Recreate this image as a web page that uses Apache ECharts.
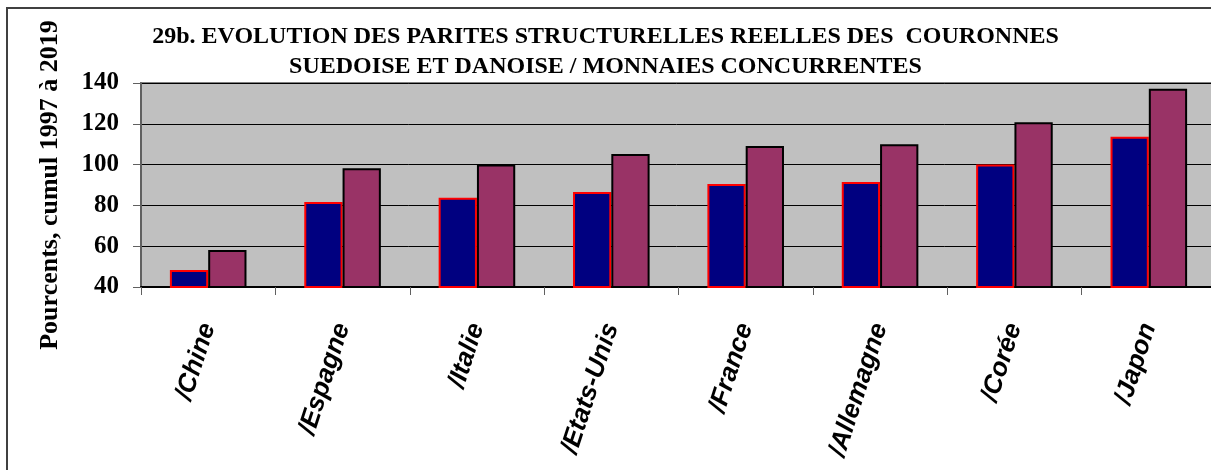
<!DOCTYPE html>
<html>
<head>
<meta charset="utf-8">
<script src="https://cdn.jsdelivr.net/npm/echarts@6/dist/echarts.min.js"></script>
<style>
  html, body { margin: 0; padding: 0; background: #fff; }
  #chart { width: 1211px; height: 470px; }
</style>
</head>
<body>
<div id="chart"></div>
<script>
// pays (categories)
var pays = ['/Chine', '/Espagne', '/Italie', '/Etats-Unis', '/France', '/Allemagne', '/Corée', '/Japon'];
// valeurs
var couronneSuedoise = [48.3, 81.7, 83.8, 86.6, 90.5, 91.5, 100.1, 113.7];
var couronneDanoise = [58.1, 98.2, 100.1, 105.2, 109.1, 110.0, 120.7, 137.2];
var yTicks = { min: 40, max: 140, interval: 20 };

var chart = echarts.init(document.getElementById('chart'), null, { renderer: 'canvas' });

var options = {
  backgroundColor: '#ffffff',
  animation: false,
  title: {
    text: '29b. EVOLUTION DES PARITES STRUCTURELLES REELLES DES  COURONNES\nSUEDOISE ET DANOISE / MONNAIES CONCURRENTES',
    left: 'center',
    top: 17,
    textStyle: {
      fontFamily: 'Liberation Serif',
      fontWeight: 'bold',
      fontSize: 24,
      lineHeight: 30,
      color: '#000'
    }
  },
  graphic: [{
    // cadre extérieur
    type: 'rect',
    shape: { x: 7, y: 8, width: 1300, height: 600 },
    style: { fill: 'none', stroke: '#404040', lineWidth: 2 },
    silent: true
  }],
  grid: {
    left: 141,
    top: 83,
    width: 1075,
    height: 204,
    outerBoundsMode: 'none',
    containLabel: false,
    show: true,
    backgroundColor: '#C0C0C0',
    borderColor: '#808080',
    borderWidth: 2
  },
  xAxis: {
    type: 'category',
    data: pays,
    boundaryGap: true,
    axisLine: { show: true, lineStyle: { color: '#000', width: 2 } },
    axisTick: { show: true, alignWithLabel: false, length: 8, lineStyle: { color: '#606060', width: 1 } },
    axisLabel: {
      interval: 0,
      rotate: 72,
      margin: 37,
      fontFamily: 'Liberation Sans',
      fontWeight: 'bold',
      fontStyle: 'italic',
      fontSize: 26,
      color: '#000'
    },
    splitLine: { show: false }
  },
  yAxis: {
    type: 'value',
    min: yTicks.min,
    max: yTicks.max,
    interval: yTicks.interval,
    name: 'Pourcents, cumul 1997 à 2019',
    nameLocation: 'middle',
    nameGap: 78,
    nameTextStyle: {
      fontFamily: 'Liberation Serif',
      fontWeight: 'bold',
      fontSize: 26,
      color: '#000'
    },
    axisLine: { show: true, lineStyle: { color: '#606060', width: 2 } },
    axisTick: { show: true, length: 8, lineStyle: { color: '#606060' } },
    axisLabel: {
      margin: 22,
      fontFamily: 'Liberation Serif',
      fontWeight: 'bold',
      fontSize: 25,
      color: '#000'
    },
    splitLine: { show: true, lineStyle: { color: '#000', width: 1 } }
  },
  series: [
    {
      name: 'Couronne suédoise',
      type: 'bar',
      data: couronneSuedoise,
      barGap: '0%',
      barCategoryGap: '43%',
      itemStyle: { color: '#000080', borderColor: '#FF0000', borderWidth: 2 }
    },
    {
      name: 'Couronne danoise',
      type: 'bar',
      data: couronneDanoise,
      barGap: '0%',
      barCategoryGap: '43%',
      itemStyle: { color: '#993366', borderColor: '#000000', borderWidth: 2 }
    }
  ]
};

chart.setOption(options);
</script>
</body>
</html>
